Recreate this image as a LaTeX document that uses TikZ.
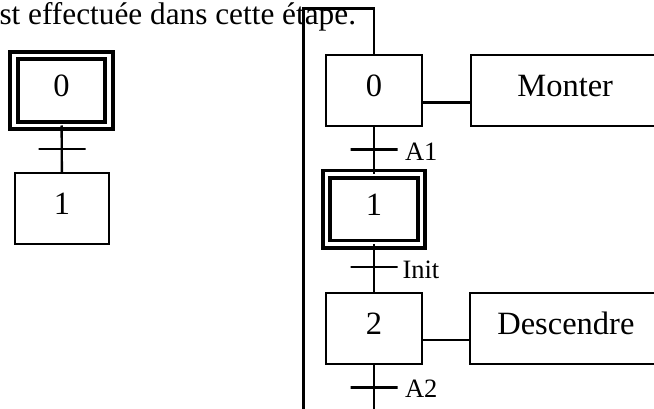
\documentclass[tikz,border=0pt]{standalone}
\usepackage{fontspec}
\setmainfont{Liberation Serif}
\begin{document}
\begin{tikzpicture}[x=1pt,y=-1pt,
  every node/.style={inner sep=0pt,outer sep=0pt},
  box/.style={draw,line width=2.4pt,rectangle,minimum width=96pt,minimum height=71pt,
    font=\fontsize{32.5}{32.5}\selectfont,text height=18pt,text depth=6pt},
  initbox/.style={box,double,double distance=3.6pt,line width=3.9pt,minimum width=95pt,minimum height=70pt},
  trans/.style={draw,line width=2.4pt,rectangle,minimum width=47pt,minimum height=0pt},
  lbl/.style={font=\fontsize{26.5}{26.5}\selectfont,anchor=base west},
  link/.style={line width=2.4pt}]
\useasboundingbox (0,0) rectangle (654,409);
\clip (0,0) rectangle (654,409);
\fill[white] (0,0) rectangle (654,409);

% top text
\node[anchor=base west,font=\fontsize{31.3}{31.3}\selectfont] (txt) at (-0.5,25) {st effectuée dans cette étape.};

% left diagram
\node[initbox] (l0) at (61.5,90.5) {0};
\node[box,minimum width=94pt] (l1) at (62,208.7) {1};
\node[trans] (lt) at (62,149) {};
\draw[link] (l0) -- (l1);

% right diagram
\node[box] (s0) at (374,90.8) {0};
\node[initbox] (s1) at (374,209.3) {1};
\node[box] (s2) at (374,328.3) {2};
\node[box,minimum width=189pt] (m) at (565.2,90.8) {Monter};
\node[box,minimum width=192pt] (d) at (565.9,328.3) {Descendre};

\node[trans] (t1) at (374,149.5) {};
\node[trans] (t2) at (374,266.7) {};
\node[trans] (t3) at (374,387.3) {};
\node[lbl] (a1) at (405,160.7) {A1};
\node[lbl] (ini) at (402.5,278.3) {Init};
\node[lbl] (a2) at (405,397.7) {A2};

\draw[link] (s0) -- (s1);
\draw[link] (s1) -- (s2);

\coordinate (lb) at (303.3,430);
\coordinate (ltop) at (303.3,8.7);
\draw[link] (s2.south) -- (s2.south |- lb) -- (lb) -- (ltop) -- (s0.north |- ltop) -- (s0.north);

\draw[link] (s0.east |- 0,102.5) -- (m.west |- 0,102.5);
\draw[link] (s2.east |- 0,340) -- (d.west |- 0,340);
\end{tikzpicture}
\end{document}
